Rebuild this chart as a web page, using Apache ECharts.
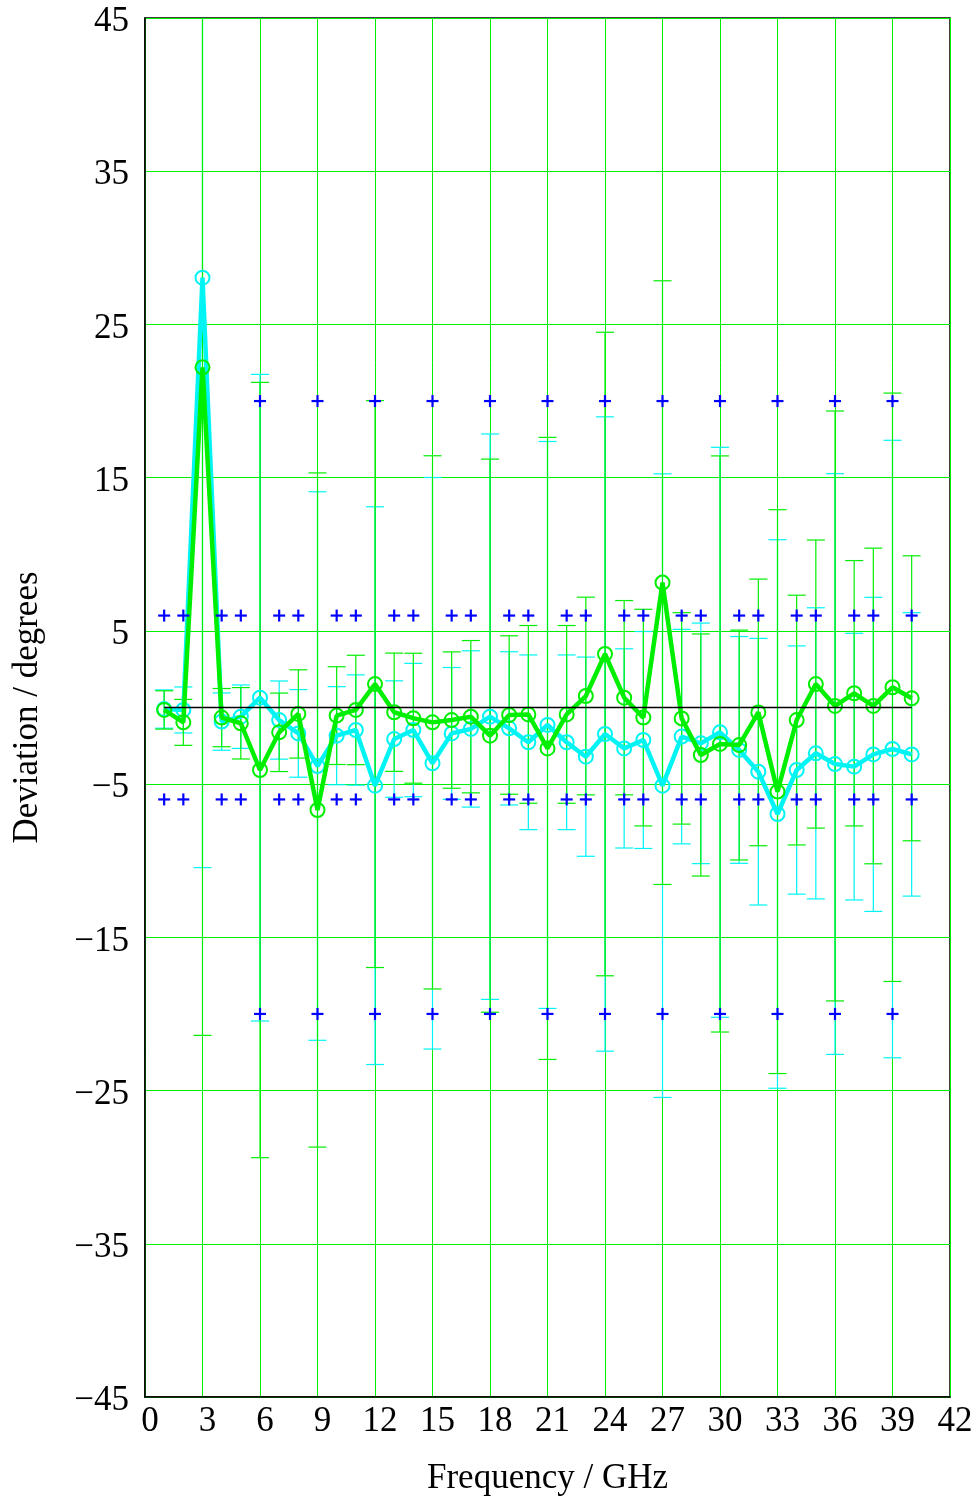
<!DOCTYPE html>
<html>
<head>
<meta charset="utf-8">
<script src="https://cdn.jsdelivr.net/npm/echarts@6/dist/echarts.min.js"></script>
<style>
html,body{margin:0;padding:0;background:#fff;}
#c{width:977px;height:1497px;}
</style>
</head>
<body>
<div id="c"></div>
<script>
// ---- data ----
const freq = [1,2,3,4,5,6,7,8,9,10,11,12,13,14,15,16,17,18,19,20,21,22,23,24,25,26,27,28,29,30,31,32,33,34,35,36,37,38,39,40];
const greenMean = [-0.16,-0.97,22.2,-0.66,-1.03,-4.08,-1.62,-0.42,-6.69,-0.53,-0.16,1.53,-0.31,-0.7,-0.97,-0.82,-0.6,-1.84,-0.49,-0.45,-2.67,-0.45,0.75,3.49,0.64,-0.66,8.15,-0.71,-3.1,-2.38,-2.45,-0.32,-5.49,-0.82,1.53,0.1,0.93,0.1,1.32,0.6];
const greenErr = [1.25,1.5,43.6,1.9,2.33,25.3,2.56,2.88,22,3.19,3.57,18.5,3.86,4.24,17.4,4.45,4.97,18.05,5.17,5.8,20.3,5.8,6.45,21.0,6.34,7.07,19.7,6.9,7.9,18.8,7.5,8.7,18.4,8.15,9.4,19.25,8.66,10.3,19.2,9.3];
const cyanMean = [-0.1,-0.16,28.05,-0.92,-0.6,0.64,-0.82,-1.69,-3.82,-1.84,-1.47,-5.1,-2.06,-1.47,-3.64,-1.69,-1.4,-0.6,-1.36,-2.27,-1.14,-2.27,-3.21,-1.73,-2.67,-2.12,-5.1,-1.9,-2.34,-1.62,-2.77,-4.19,-6.95,-4.08,-2.99,-3.69,-3.86,-3.06,-2.71,-3.06];
const cyanErr = [1.25,1.5,38.5,1.87,2.07,21.1,2.55,2.86,17.9,3.2,3.6,18.2,3.8,4.35,18.65,4.3,5.1,18.45,5.0,5.7,18.5,5.7,6.5,20.7,6.5,7.08,20.35,7.0,7.85,18.6,7.4,8.7,17.9,8.1,9.5,18.95,8.7,10.25,20.15,9.25];
// specification limits (+ markers)
const limitFreqNarrow = [1,2,4,5,7,8,10,11,13,14,16,17,19,20,22,23,25,26,28,29,31,32,34,35,37,38,40];
const limitNarrow = 6;
const limitFreqWide = [6,9,12,15,18,21,24,27,30,33,36,39];
const limitWide = 20;
const xTicks = {min:0, max:42, interval:3};
const yTicks = {min:-45, max:45, interval:10};

const FONT = '"Liberation Serif", "Times New Roman", serif';
const GREEN = '#00ee00';
const CYAN = '#00f4f4';

function errData(mean, err){
  return freq.map((f,i)=>[f, mean[i]-err[i], mean[i]+err[i]]);
}
function errRender(color){
  return function(params, api){
    const f = api.value(0), lo = api.value(1), hi = api.value(2);
    const ymin = yTicks.min, ymax = yTicks.max;
    const clo = Math.max(lo, ymin), chi = Math.min(hi, ymax);
    const p1 = api.coord([f, clo]), p2 = api.coord([f, chi]);
    const st = {stroke: color, lineWidth: 1.2};
    const ch = [{type:'line', shape:{x1:p1[0],y1:p1[1],x2:p2[0],y2:p2[1]}, style:st}];
    const w = 9;
    if (lo >= ymin) ch.push({type:'line', shape:{x1:p1[0]-w,y1:p1[1],x2:p1[0]+w,y2:p1[1]}, style:st});
    if (hi <= ymax) ch.push({type:'line', shape:{x1:p2[0]-w,y1:p2[1],x2:p2[0]+w,y2:p2[1]}, style:st});
    return {type:'group', children: ch};
  };
}
function plusRender(params, api){
  const p = api.coord([api.value(0), api.value(1)]);
  const s = 6;
  const st = {stroke:'#0000ff', lineWidth:2.2};
  return {type:'group', children:[
    {type:'line', shape:{x1:p[0]-s,y1:p[1],x2:p[0]+s,y2:p[1]}, style:st},
    {type:'line', shape:{x1:p[0],y1:p[1]-s,x2:p[0],y2:p[1]+s}, style:st}
  ]};
}
const plusData = [];
limitFreqNarrow.forEach(f=>{plusData.push([f, limitNarrow]); plusData.push([f, -limitNarrow]);});
limitFreqWide.forEach(f=>{plusData.push([f, limitWide]); plusData.push([f, -limitWide]);});

const fmtMinus = v => (v < 0 ? '\u2212' + Math.abs(v) : String(v));

const chart = echarts.init(document.getElementById('c'), null, {renderer:'canvas'});
chart.setOption({
  animation: false,
  backgroundColor: '#fff',
  grid: {left:145, right:27, top:18, bottom:100, show:true, borderColor:'#000', borderWidth:1.5,
    backgroundColor:'transparent', containLabel:false, outerBoundsMode:'none'},
  xAxis: {
    type:'value', min:xTicks.min, max:xTicks.max, interval:xTicks.interval,
    name:'Frequency / GHz', nameLocation:'middle', nameGap:64,
    nameTextStyle:{fontFamily:FONT, fontSize:35, color:'#000'},
    axisLine:{show:true, onZero:false, lineStyle:{color:'#000', width:1.5}},
    axisTick:{show:false},
    axisLabel:{fontFamily:FONT, fontSize:35, color:'#000', margin:7, padding:[0,0,0,10]},
    splitLine:{show:true, lineStyle:{color:GREEN, width:1}}
  },
  yAxis: {
    type:'value', min:yTicks.min, max:yTicks.max, interval:yTicks.interval,
    name:'Deviation / degrees', nameLocation:'middle', nameGap:100,
    nameTextStyle:{fontFamily:FONT, fontSize:35, color:'#000'},
    axisLine:{show:true, onZero:false, lineStyle:{color:'#000', width:1.5}},
    axisTick:{show:false},
    axisLabel:{fontFamily:FONT, fontSize:35, color:'#000', margin:16, formatter:fmtMinus,
      verticalAlign:'top', lineHeight:8},
    splitLine:{show:true, lineStyle:{color:GREEN, width:1}}
  },
  series: [
    {type:'custom', name:'cyanErr', renderItem: errRender(CYAN), data: errData(cyanMean, cyanErr), z:2, encode:{x:0,y:[1,2]}},
    {type:'custom', name:'greenErr', renderItem: errRender(GREEN), data: errData(greenMean, greenErr), z:3, encode:{x:0,y:[1,2]}},
    {type:'line', name:'cyan', data: freq.map((f,i)=>[f,cyanMean[i]]), z:4,
      symbol:'circle', symbolSize:14, showAllSymbol:true,
      lineStyle:{color:CYAN, width:4.5}, itemStyle:{color:'rgba(0,0,0,0)', borderColor:CYAN, borderWidth:2}},
    {type:'line', name:'green', data: freq.map((f,i)=>[f,greenMean[i]]), z:5,
      symbol:'circle', symbolSize:14, showAllSymbol:true,
      lineStyle:{color:GREEN, width:4.5}, itemStyle:{color:'rgba(0,0,0,0)', borderColor:GREEN, borderWidth:2}},
    {type:'line', name:'zero', data: [[freq[0],0],[freq[freq.length-1],0]], z:6, symbol:'none',
      lineStyle:{color:'#000', width:1.5}},
    {type:'custom', name:'limits', renderItem: plusRender, data: plusData, z:7}
  ]
});
</script>
</body>
</html>
